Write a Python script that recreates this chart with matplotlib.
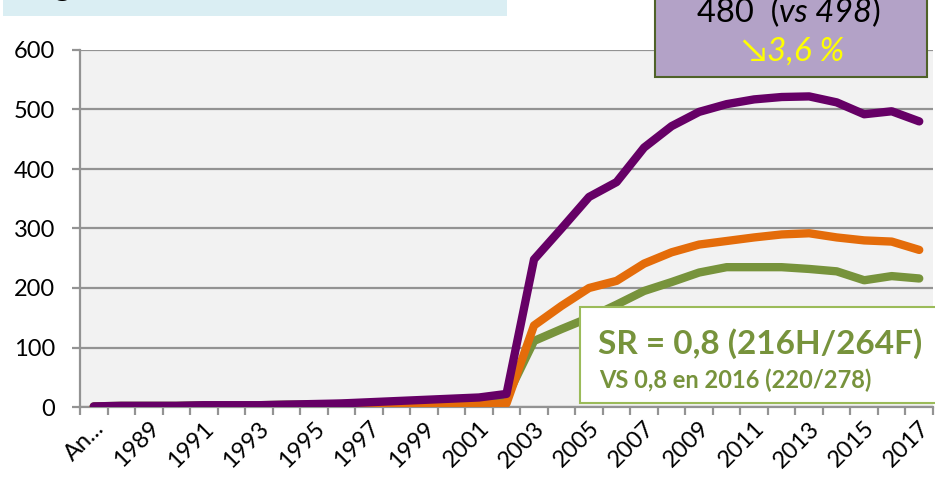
import matplotlib
matplotlib.use("Agg")
import matplotlib.pyplot as plt
from matplotlib.patches import Rectangle
from matplotlib.text import Annotation
import matplotlib.transforms as mtransforms

plt.rcParams['font.family'] = ['Lato', 'DejaVu Sans']

CATEGORIES = ["An...", "1988", "1989", "1990", "1991", "1992", "1993", "1994",
              "1995", "1996", "1997", "1998", "1999", "2000", "2001", "2002",
              "2003", "2004", "2005", "2006", "2007", "2008", "2009", "2010",
              "2011", "2012", "2013", "2014", "2015", "2016", "2017"]

TOTAL = [1, 2, 2, 2, 3, 3, 3, 4, 5, 6, 8, 10, 12, 14, 16, 22,
         248, 300, 353, 378, 436, 472, 496, 509, 517, 521, 522, 512, 492, 497, 480]
FEMMES = [0, 0, 0, 0, 0, 0, 0, 0, 1, 1, 2, 2, 3, 3, 4, 6,
          137, 170, 200, 212, 241, 260, 273, 279, 285, 290, 292, 285, 280, 278, 264]
HOMMES = [1, 2, 2, 2, 3, 3, 3, 4, 4, 5, 6, 8, 9, 11, 12, 16,
          111, 131, 150, 172, 195, 210, 226, 235, 235, 235, 232, 228, 213, 220, 216]

Y_TICKS = [0, 100, 200, 300, 400, 500, 600]

PURPLE = "#660066"
ORANGE = "#E46C0A"
GREEN = "#77933C"
GRID = "#939393"

fig = plt.figure(figsize=(9.35, 4.78), dpi=100)
ax = fig.add_axes([80 / 935, 1 - 407 / 478, 853 / 935, 357 / 478])
ax.set_facecolor("#F2F2F2")

x = list(range(len(CATEGORIES)))
for vals, col in [(HOMMES, GREEN), (FEMMES, ORANGE), (TOTAL, PURPLE)]:
    ax.plot(x, vals, color=col, lw=6, solid_capstyle="round",
            solid_joinstyle="round", zorder=3)

ax.set_xlim(-0.5, len(CATEGORIES) - 0.5)
ax.set_ylim(0, 600)
ax.set_yticks(Y_TICKS)
ax.yaxis.grid(True, color=GRID, lw=1.6)
ax.set_axisbelow(True)

for s in ["top", "right"]:
    ax.spines[s].set_visible(False)
for s in ["left", "bottom"]:
    ax.spines[s].set_color(GRID)
    ax.spines[s].set_linewidth(1.6)

ax.tick_params(axis="y", length=6, width=1.6, color=GRID, pad=12,
               labelsize=17)

# labels every other category, tick marks on category boundaries
ax.set_xticks(x[::2])
ax.set_xticklabels(CATEGORIES[::2], rotation=45, ha="right",
                   rotation_mode="anchor", va="center", fontsize=17)
ax.set_xticks([i - 0.5 for i in x] + [len(x) - 0.5], minor=True)
ax.tick_params(axis="x", which="major", length=0, pad=13)
ax.tick_params(axis="x", which="minor", length=6, width=1.6, color=GRID)
offset = mtransforms.ScaledTranslation(5 / 72, 0, fig.dpi_scale_trans)
for lab in ax.get_xticklabels():
    lab.set_transform(lab.get_transform() + offset)

# title band (cut off at top)
fig.patches.append(Rectangle((3 / 935, 1 - 16 / 478), 504 / 935, 16 / 478,
                             transform=fig.transFigure, facecolor="#DAEEF3",
                             edgecolor="none", zorder=1))
fig.text(0.058, 1.010, "g", fontsize=24, va="baseline", color="black")

# purple callout
fig.patches.append(Rectangle((655 / 935, 1 - 77 / 478), 272 / 935, 90 / 478,
                             transform=fig.transFigure, facecolor="#B3A2C7",
                             edgecolor="#4F6228", lw=1.5, zorder=5))
t1 = fig.text(697 / 935, 1 - 28 / 478, "480  (", fontsize=23.5, va="bottom",
              ha="left", zorder=6)
t2 = Annotation("vs 498", xy=(1, 0), xycoords=t1, fontsize=23.5,
                style="italic", va="bottom", ha="left", zorder=6)
fig.add_artist(t2)
t3 = Annotation(")", xy=(1, 0), xycoords=t2, fontsize=23.5, va="bottom",
                ha="left", zorder=6)
fig.add_artist(t3)
fig.text(793 / 935, 1 - 61 / 478, "\u21983,6 %", fontsize=24, va="baseline",
         ha="center", style="italic", color="#FFFF00", zorder=6)

# green callout
fig.patches.append(Rectangle((580 / 935, 1 - 403 / 478), 360 / 935, 96 / 478,
                             transform=fig.transFigure, facecolor="white",
                             edgecolor="#9BBB59", lw=1.5, zorder=5))
fig.text(598 / 935, 1 - 354 / 478, "SR = 0,8 (216H/264F)", fontsize=24,
         fontweight="bold", color=GREEN, va="baseline", zorder=6)
fig.text(599 / 935, 1 - 388 / 478, "VS 0,8 en 2016 (220/278)", fontsize=17,
         fontweight="bold", color=GREEN, va="baseline", zorder=6)

fig.savefig("out.png", dpi=100)
